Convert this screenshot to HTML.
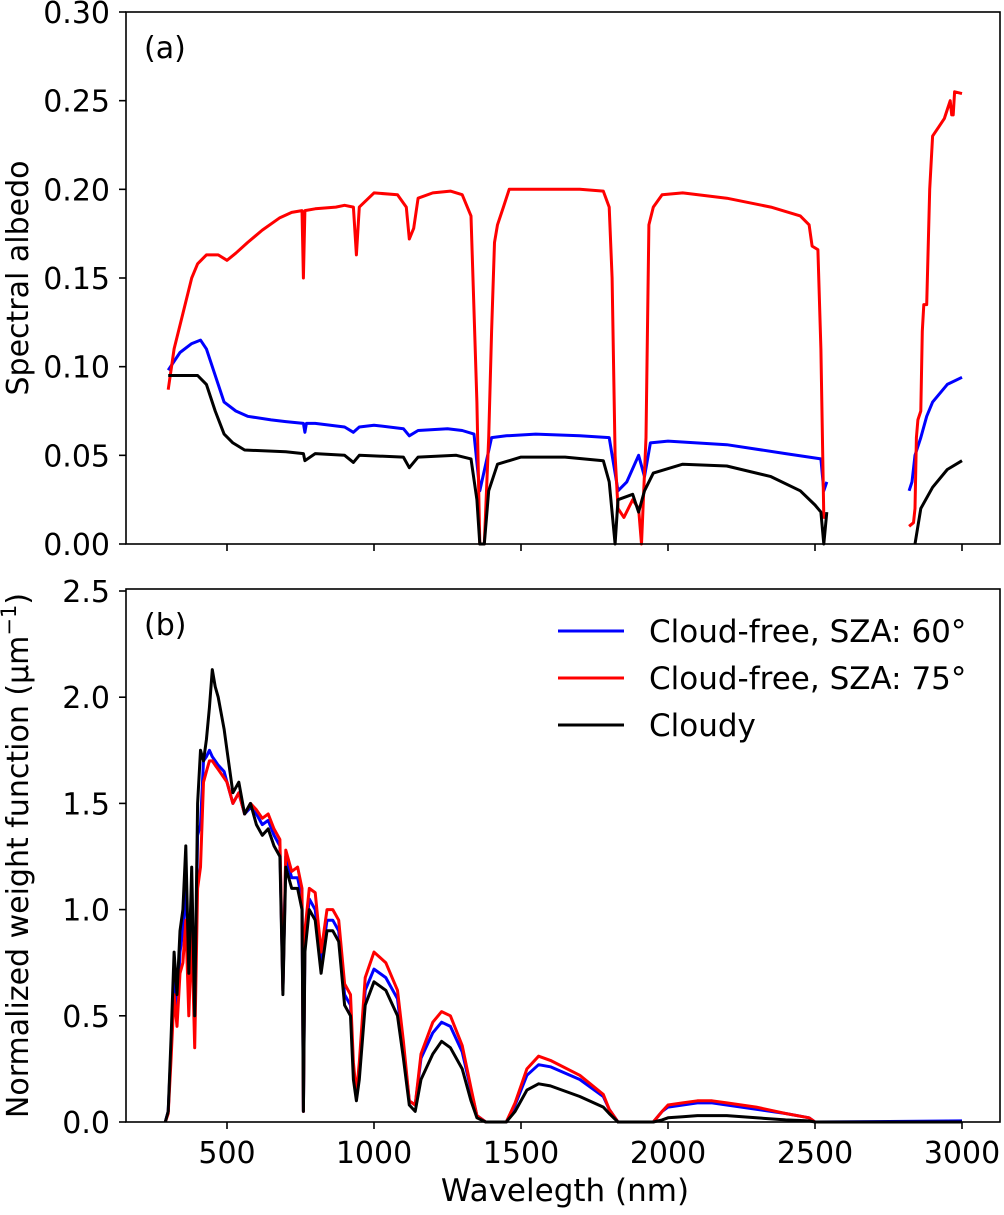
<!DOCTYPE html>
<html><head><meta charset="utf-8"><style>
body{margin:0;background:#fff;}
svg text{font-family:"DejaVu Sans","Liberation Sans",sans-serif;fill:#000;}
</style></head><body>
<svg id="chart" width="1004" height="1210" xmlns="http://www.w3.org/2000/svg">
<g id="pa"></g>
<g id="pb"></g>
</svg>
<script>
// Panel (a) spectral albedo
const aRedW=[300,320,350,380,400,430,470,500,530,570,620,680,720,755,760,765,800,870,900,930,940,950,1000,1080,1110,1120,1135,1150,1200,1260,1300,1330,1350,1360,1375,1390,1400,1410,1420,1440,1460,1500,1600,1700,1780,1800,1810,1820,1830,1850,1880,1900,1910,1925,1935,1950,1980,2050,2200,2350,2450,2480,2490,2510,2520,2530,2540,null,2820,2835,2840,2845,2850,2860,2865,2870,2880,2890,2900,2920,2940,2950,2960,2965,2970,2975,3000];
const aRedV=[0.087,0.11,0.13,0.15,0.158,0.163,0.163,0.160,0.164,0.17,0.177,0.184,0.187,0.188,0.15,0.188,0.189,0.19,0.191,0.19,0.163,0.19,0.198,0.197,0.19,0.172,0.178,0.195,0.198,0.199,0.197,0.185,0.08,0,0,0.06,0.12,0.17,0.18,0.19,0.2,0.2,0.2,0.2,0.199,0.19,0.15,0.05,0.02,0.015,0.025,0.02,0,0.06,0.18,0.19,0.197,0.198,0.195,0.19,0.185,0.18,0.168,0.166,0.11,0.015,0.015,null,0.01,0.012,0.02,0.06,0.07,0.075,0.12,0.135,0.135,0.2,0.23,0.235,0.24,0.245,0.25,0.242,0.242,0.255,0.254];
const aBlueW=[300,340,380,410,430,470,490,530,570,650,700,760,765,770,800,900,930,950,1000,1100,1120,1150,1250,1300,1340,1360,1380,1400,1450,1550,1700,1800,1820,1830,1860,1900,1920,1940,2000,2200,2400,2520,2530,2540,null,2820,2830,2840,2860,2880,2900,2950,3000];
const aBlueV=[0.098,0.108,0.113,0.115,0.11,0.09,0.08,0.075,0.072,0.07,0.069,0.068,0.063,0.068,0.068,0.066,0.063,0.066,0.067,0.065,0.061,0.064,0.065,0.064,0.062,0.03,0.045,0.06,0.061,0.062,0.061,0.06,0.04,0.03,0.035,0.05,0.038,0.057,0.058,0.056,0.051,0.048,0.03,0.035,null,0.03,0.035,0.05,0.06,0.072,0.08,0.09,0.094];
const aBlackW=[300,400,430,460,490,520,560,700,760,765,800,900,930,950,1100,1120,1150,1280,1330,1350,1360,1375,1390,1420,1500,1650,1780,1800,1820,1830,1880,1900,1920,1950,2050,2200,2350,2450,2500,2520,2530,2540,null,2840,2860,2900,2950,3000];
const aBlackV=[0.095,0.095,0.09,0.075,0.062,0.057,0.053,0.052,0.051,0.047,0.051,0.05,0.046,0.05,0.049,0.043,0.049,0.05,0.048,0.025,0,0,0.03,0.045,0.049,0.049,0.047,0.035,0,0.025,0.028,0.018,0.03,0.04,0.045,0.044,0.038,0.03,0.022,0.018,0,0.018,null,0,0.02,0.032,0.042,0.047];
// Panel (b) normalized weight functions
const bW=[290,300,310,320,330,340,350,360,370,380,390,400,410,420,430,440,450,460,470,490,500,520,540,560,580,600,620,640,660,680,690,700,720,740,755,760,765,780,800,820,840,860,880,900,920,930,940,950,970,1000,1040,1080,1100,1120,1140,1160,1200,1230,1260,1300,1330,1350,1380,1450,1480,1520,1560,1600,1700,1780,1800,1830,1950,1980,2000,2050,2100,2150,2200,2300,2400,2480,2500,3000];
const bBlack=[0,0.05,0.4,0.8,0.6,0.9,1.0,1.3,0.7,1.2,0.5,1.5,1.75,1.7,1.8,1.95,2.13,2.05,2.0,1.85,1.75,1.55,1.6,1.45,1.5,1.4,1.35,1.38,1.3,1.25,0.6,1.2,1.1,1.1,1.0,0.05,0.8,1.0,0.95,0.7,0.9,0.9,0.85,0.55,0.5,0.2,0.1,0.2,0.55,0.66,0.62,0.5,0.3,0.08,0.05,0.2,0.32,0.38,0.35,0.25,0.1,0.02,0,0,0.05,0.15,0.18,0.17,0.12,0.07,0.04,0,0,0.01,0.02,0.025,0.03,0.03,0.03,0.02,0.01,0.005,0,0];
const bBlue=[0,0.05,0.35,0.7,0.5,0.8,0.9,1.15,0.6,1.05,0.45,1.35,1.4,1.7,1.72,1.75,1.72,1.7,1.68,1.65,1.6,1.5,1.55,1.45,1.48,1.45,1.4,1.42,1.35,1.3,0.62,1.25,1.15,1.15,1.05,0.05,0.85,1.05,1.0,0.75,0.95,0.95,0.9,0.6,0.55,0.25,0.12,0.25,0.62,0.72,0.68,0.58,0.35,0.1,0.08,0.3,0.42,0.47,0.45,0.33,0.15,0.03,0,0,0.08,0.22,0.27,0.26,0.2,0.12,0.06,0,0,0.05,0.07,0.08,0.09,0.09,0.08,0.06,0.04,0.02,0,0.005];
const bRed=[0,0.04,0.3,0.6,0.45,0.7,0.75,0.95,0.5,0.9,0.35,1.1,1.2,1.6,1.65,1.7,1.7,1.68,1.66,1.62,1.6,1.5,1.55,1.45,1.5,1.47,1.43,1.45,1.38,1.33,0.62,1.28,1.18,1.2,1.1,0.05,0.9,1.1,1.08,0.8,1.0,1.0,0.95,0.65,0.6,0.28,0.13,0.28,0.68,0.8,0.75,0.62,0.38,0.1,0.08,0.32,0.47,0.52,0.5,0.36,0.16,0.03,0,0,0.09,0.25,0.31,0.29,0.22,0.13,0.06,0,0,0.05,0.08,0.09,0.1,0.1,0.09,0.07,0.04,0.02,0,0];
const xTicks=[500,1000,1500,2000,2500,3000];
const aTicks=[0,0.05,0.10,0.15,0.20,0.25,0.30];
const bTicks=[0,0.5,1.0,1.5,2.0,2.5];

const NS="http://www.w3.org/2000/svg";
const L=126,R=1000;
const x=w=>227+(w-500)*147/500;
const ya=v=>544-v*(532/0.30);
const yb=v=>1122-v*(531/2.5);
function mk(p,t,a){const e=document.createElementNS(NS,t);for(const k in a)e.setAttribute(k,a[k]);p.appendChild(e);return e;}
function path(ws,vs,yf){let d="",pen=false;for(let i=0;i<ws.length;i++){if(ws[i]===null||vs[i]===null){pen=false;continue;}d+=(pen?"L":"M")+x(ws[i]).toFixed(1)+","+yf(vs[i]).toFixed(1);pen=true;}return d;}
function panel(g,top,bot,yf,ticks,dec,label,letter,showX){
  const r=mk(g,"rect",{x:L,y:top,width:R-L,height:bot-top,fill:"none",stroke:"#000","stroke-width":1.6});
  
  
  ticks.forEach(t=>{const yy=yf(t);mk(g,"line",{x1:L-7,x2:L,y1:yy,y2:yy,stroke:"#000","stroke-width":1.6});
    const tx=mk(g,"text",{x:L-16,y:yy+11,"text-anchor":"end","font-size":30});tx.textContent=t.toFixed(dec);
    
    });
  xTicks.forEach(t=>{mk(g,"line",{x1:x(t),x2:x(t),y1:bot,y2:bot+7,stroke:"#000","stroke-width":1.6});
    if(showX){const tx=mk(g,"text",{x:x(t),y:bot+41,"text-anchor":"middle","font-size":30});tx.textContent=t;
    
    }});
  const yl=mk(g,"text",{x:0,y:0,"text-anchor":"middle","font-size":30,transform:`translate(28,${(top+bot)/2}) rotate(-90)`});
  yl.innerHTML=label;
  
  
  const lt=mk(g,"text",{x:144,y:top+46,"font-size":30});lt.textContent=letter;
  
  
}
const pa=document.getElementById("pa"),pb=document.getElementById("pb");
const ca=mk(pa,"g",{});
[[aBlueW,aBlueV,"#0000ff","albedo-cloud-free-60"],[aRedW,aRedV,"#ff0000","albedo-cloud-free-75"],[aBlackW,aBlackV,"#000","albedo-cloudy"]].forEach(s=>{
  const p=mk(ca,"path",{d:path(s[0],s[1],ya),fill:"none",stroke:s[2],"stroke-width":3,"stroke-linejoin":"round"});
  
  });
panel(pa,12,544,ya,aTicks,2,"Spectral albedo","(a)",false);
const cb=mk(pb,"g",{});
[[bBlue,"#0000ff","weight-cloud-free-60"],[bRed,"#ff0000","weight-cloud-free-75"],[bBlack,"#000","weight-cloudy"]].forEach(s=>{
  const p=mk(cb,"path",{d:path(bW,s[0],yb),fill:"none",stroke:s[1],"stroke-width":3,"stroke-linejoin":"round"});
  
  });
panel(pb,589,1122,yb,bTicks,1,"Normalized weight function (μm<tspan dy='-12' font-size='21'>−1</tspan><tspan dy='12'>)</tspan>","(b)",true);
const xl=mk(pb,"text",{x:(L+R)/2+2,y:1201,"text-anchor":"middle","font-size":31});xl.textContent="Wavelegth (nm)";


const leg=mk(pb,"g",{});


[["Cloud-free, SZA: 60°","#0000ff",631],["Cloud-free, SZA: 75°","#ff0000",678],["Cloudy","#000",725]].forEach(e=>{
  const g=mk(leg,"g",{});
  
  
  mk(g,"line",{x1:558,x2:624,y1:e[2],y2:e[2],stroke:e[1],"stroke-width":3});
  const t=mk(g,"text",{x:649,y:e[2]+11,"font-size":31});t.textContent=e[0];});
</script>
</body></html>
